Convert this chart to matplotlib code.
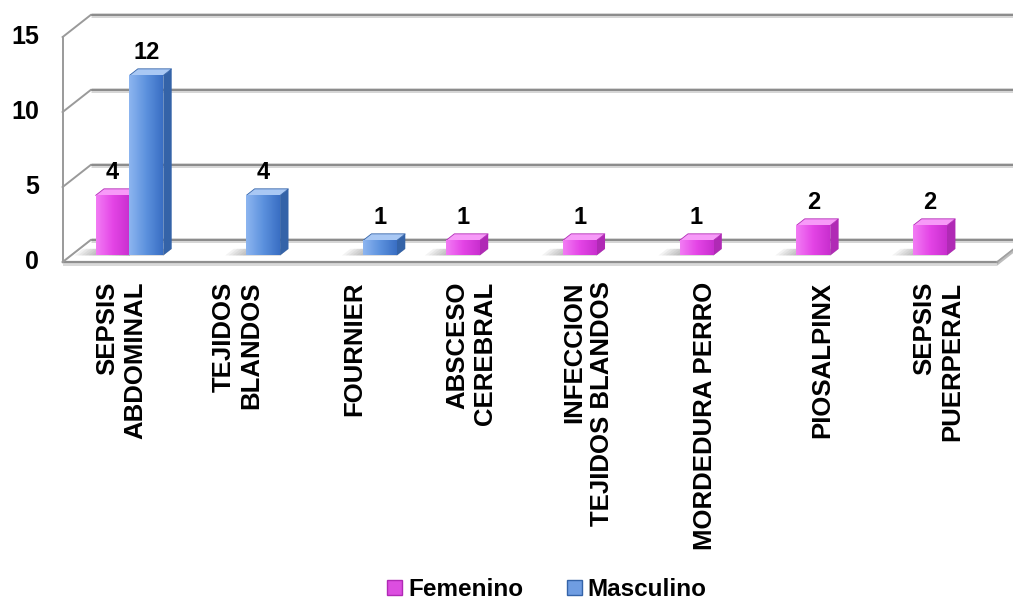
import matplotlib
matplotlib.use("Agg")
import matplotlib.pyplot as plt
import matplotlib.patches as mpatches
from matplotlib.colors import LinearSegmentedColormap
import numpy as np

plt.rcParams["font.family"] = ["Liberation Sans", "DejaVu Sans"]
plt.rcParams["font.weight"] = "bold"

# ── Datos ──────────────────────────────────────────────────────────────────
CATEGORIAS = [
    "SEPSIS\nABDOMINAL",
    "TEJIDOS\nBLANDOS",
    "FOURNIER",
    "ABSCESO\nCEREBRAL",
    "INFECCION\nTEJIDOS BLANDOS",
    "MORDEDURA PERRO",
    "PIOSALPINX",
    "SEPSIS\nPUERPERAL",
]
FEMENINO = [4, 0, 0, 1, 1, 1, 2, 2]
MASCULINO = [12, 4, 1, 0, 0, 0, 0, 0]
Y_TICKS = [0, 5, 10, 15]
Y_MAX = 15

# ── Geometria del efecto 3D (unidades de datos) ─────────────────────────────
DX = 0.24        # desplazamiento horizontal de fondo completo (categorias)
DY = 1.467       # desplazamiento vertical de fondo completo (valores)
D_FRONT = 0.30   # profundidad de la cara frontal de las columnas
D_BAR = 0.30     # profundidad de cada columna
BAR_W = 0.29
N = len(CATEGORIAS)

SERIES = [
    ("Femenino", FEMENINO, -BAR_W / 2,
     ["#f27cf4", "#e445e6", "#c92fcf"], "#f79af8", "#b02ab5"),
    ("Masculino", MASCULINO, BAR_W / 2,
     ["#8db5f0", "#5d92de", "#3a6fc4"], "#a9c8f4", "#3463a8"),
]

fig = plt.figure(figsize=(10.13, 6.0), dpi=100, facecolor="white")
ax = fig.add_axes([0, 0, 1, 1])
ax.set_xlim(-1.036, 7.637)
ax.set_ylim(-22.53, 17.47)
ax.axis("off")

x_left, x_right = -0.5, N - 0.5

# piso (losa)
floor = mpatches.Polygon([(x_left, 0), (x_right, 0), (x_right + DX, DY),
                          (x_left + DX, DY)], closed=True,
                         facecolor="white", edgecolor="#c8c8c8", lw=1.0, zorder=1)
ax.add_patch(floor)
ax.add_patch(mpatches.Polygon([(x_left, 0), (x_right, 0), (x_right, -0.25),
                               (x_left, -0.25)], closed=True,
                              facecolor="#d9d9d9", edgecolor="none", zorder=1))
ax.add_patch(mpatches.Polygon([(x_right, 0), (x_right + DX, DY),
                               (x_right + DX, DY - 0.25), (x_right, -0.25)],
                              closed=True, facecolor="#bdbdbd", edgecolor="none",
                              zorder=1))
ax.plot([x_left, x_right], [0, 0], color="#8f8f8f", lw=1.6, zorder=2)
ax.plot([x_right, x_right + DX], [0, DY], color="#a0a0a0", lw=1.2, zorder=2)

# lineas de division en pared de fondo y pared lateral
for v in Y_TICKS:
    ax.plot([x_left + DX, x_right + DX], [v + DY, v + DY],
            color="#d6d6d6", lw=3.6, solid_capstyle="butt", zorder=1)
    ax.plot([x_left + DX, x_right + DX], [v + DY, v + DY],
            color="#8a8a8a", lw=1.4, solid_capstyle="butt", zorder=1)
    ax.plot([x_left, x_left + DX], [v, v + DY], color="#9a9a9a", lw=1.4, zorder=2)
    ax.text(x_left - 0.2, v, f"{v}", ha="right", va="center",
            fontsize=18, fontweight="bold", color="black")
ax.plot([x_left, x_left], [0, Y_MAX], color="#9a9a9a", lw=1.4, zorder=2)

# columnas
x = np.arange(N)
grad = np.linspace(0, 1, 64).reshape(1, -1)
for nombre, valores, off, cols, top_c, side_c in SERIES:
    cmap = LinearSegmentedColormap.from_list(nombre, cols)
    xs = x + off + D_FRONT * DX
    bars = ax.bar(xs, valores, width=BAR_W, bottom=D_FRONT * DY,
                  color=cols[1], edgecolor="none", zorder=5, label=nombre)
    for bar, v in zip(bars, valores):
        if v <= 0:
            bar.set_visible(False)
            continue
        xl = bar.get_x()
        xr = xl + bar.get_width()
        yb = bar.get_y()
        yt = yb + bar.get_height()
        ddx, ddy = D_BAR * DX, D_BAR * DY

        # sombra sobre el piso, mas oscura junto a la columna
        for k in range(6):
            ext = 0.03 * (k + 1)
            ax.add_patch(mpatches.Polygon(
                [(xl - ext, yb), (xr, yb), (xr + ddx, yb + ddy),
                 (xl - ext + ddx, yb + ddy)], closed=True,
                facecolor="#505050", edgecolor="none", alpha=0.07, zorder=3))

        # gradiente en la cara frontal
        img = ax.imshow(grad, cmap=cmap, aspect="auto", extent=(xl, xr, yb, yt),
                        zorder=5.5, interpolation="bicubic")
        img.set_clip_path(bar)

        side = mpatches.Polygon([(xr, yb), (xr, yt), (xr + ddx, yt + ddy),
                                 (xr + ddx, yb + ddy)], closed=True,
                                facecolor=side_c, edgecolor="none", zorder=4.8)
        top = mpatches.Polygon([(xl, yt), (xr, yt), (xr + ddx, yt + ddy),
                                (xl + ddx, yt + ddy)], closed=True,
                               facecolor=top_c, edgecolor=side_c, lw=0.6,
                               zorder=4.8)
        ax.add_patch(side)
        ax.add_patch(top)

        ax.text(xl + bar.get_width() / 2, yt + 1.5, f"{v}", ha="center",
                va="center", fontsize=17, fontweight="bold", color="black",
                zorder=6)

# etiquetas de categoria
for i, cat in enumerate(CATEGORIAS):
    ax.text(i, -1.3, cat, rotation=90, ha="center", va="top",
            multialignment="right", fontsize=18.5, fontweight="bold",
            color="black", linespacing=1.2)

# leyenda
handles = [
    mpatches.Patch(facecolor="#dc4ee0", edgecolor="#b02ab5", label="Femenino"),
    mpatches.Patch(facecolor="#6f9de2", edgecolor="#3463a8", label="Masculino"),
]
fig.legend(handles=handles, loc="center", bbox_to_anchor=(0.54, 0.017),
           ncol=2, frameon=False, handlelength=0.6,
           handleheight=0.6, handletextpad=0.25, columnspacing=1.8,
           prop={"weight": "bold", "size": 17.5})

fig.savefig("out.png", dpi=100, facecolor="white")
